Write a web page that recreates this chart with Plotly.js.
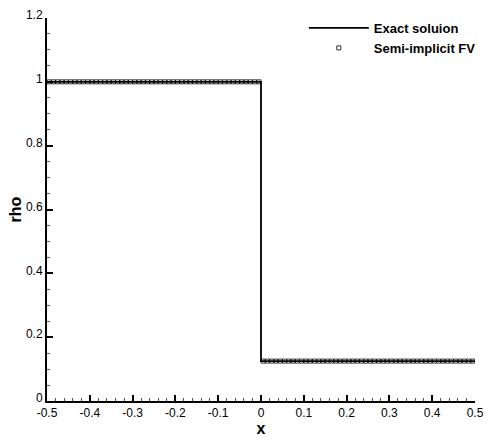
<!DOCTYPE html>
<html>
<head>
<meta charset="utf-8">
<script src="https://cdn.plot.ly/plotly-3.0.1.min.js"></script>
<style>html,body{margin:0;padding:0;background:#fff;}#chart{width:498px;height:443px;}</style>
</head>
<body>
<div id="chart"></div>
<script>
// Exact solution (step)
const exactX = [-0.5, 0, 0, 0.5];
const exactRho = [1, 1, 0.125, 0.125];

// Semi-implicit FV cell centres and values
const fvX = [-0.495,-0.485,-0.475,-0.465,-0.455,-0.445,-0.435,-0.425,-0.415,-0.405,
-0.395,-0.385,-0.375,-0.365,-0.355,-0.345,-0.335,-0.325,-0.315,-0.305,
-0.295,-0.285,-0.275,-0.265,-0.255,-0.245,-0.235,-0.225,-0.215,-0.205,
-0.195,-0.185,-0.175,-0.165,-0.155,-0.145,-0.135,-0.125,-0.115,-0.105,
-0.095,-0.085,-0.075,-0.065,-0.055,-0.045,-0.035,-0.025,-0.015,-0.005,
0.005,0.015,0.025,0.035,0.045,0.055,0.065,0.075,0.085,0.095,
0.105,0.115,0.125,0.135,0.145,0.155,0.165,0.175,0.185,0.195,
0.205,0.215,0.225,0.235,0.245,0.255,0.265,0.275,0.285,0.295,
0.305,0.315,0.325,0.335,0.345,0.355,0.365,0.375,0.385,0.395,
0.405,0.415,0.425,0.435,0.445,0.455,0.465,0.475,0.485,0.495];
const fvRho = [1,1,1,1,1,1,1,1,1,1, 1,1,1,1,1,1,1,1,1,1,
1,1,1,1,1,1,1,1,1,1, 1,1,1,1,1,1,1,1,1,1,
1,1,1,1,1,1,1,1,1,1,
0.125,0.125,0.125,0.125,0.125,0.125,0.125,0.125,0.125,0.125,
0.125,0.125,0.125,0.125,0.125,0.125,0.125,0.125,0.125,0.125,
0.125,0.125,0.125,0.125,0.125,0.125,0.125,0.125,0.125,0.125,
0.125,0.125,0.125,0.125,0.125,0.125,0.125,0.125,0.125,0.125,
0.125,0.125,0.125,0.125,0.125,0.125,0.125,0.125,0.125,0.125];

const xTicks = [-0.5,-0.4,-0.3,-0.2,-0.1,0,0.1,0.2,0.3,0.4,0.5];
const xTickText = ['-0.5','-0.4','-0.3','-0.2','-0.1','0','0.1','0.2','0.3','0.4','0.5'];
const yTicks = [0,0.2,0.4,0.6,0.8,1,1.2];
const yTickText = ['0','0.2','0.4','0.6','0.8','1','1.2'];

const traces = [
  {x: exactX, y: exactRho, type: 'scatter', mode: 'lines', name: 'Exact soluion',
   line: {color: '#000', width: 1.8}},
  {x: fvX, y: fvRho, type: 'scatter', mode: 'markers', name: 'Semi-implicit FV',
   marker: {symbol: 'square-open', size: 4, color: '#000', line: {width: 0.8, color: '#000'}}}
];

const FAM = 'Liberation Sans, Arial, sans-serif';
const axisFont = {family: FAM, size: 12, color: '#000'};
const layout = {
  width: 498, height: 443,
  margin: {l: 47, r: 23, t: 18, b: 42},
  paper_bgcolor: '#fff', plot_bgcolor: '#fff',
  font: axisFont,
  showlegend: true,
  legend: {x: 0.6, y: 1.013, xanchor: 'left', yanchor: 'top', bgcolor: 'rgba(0,0,0,0)',
           font: {family: FAM, size: 13, color: '#000', weight: 'bold'},
           tracegroupgap: 0, itemwidth: 60},
  xaxis: {range: [-0.5, 0.5], tickvals: xTicks, ticktext: xTickText, showgrid: false, zeroline: false,
          showline: true, linecolor: '#000', linewidth: 2, ticks: 'inside', ticklen: 6, tickwidth: 2, tickcolor: '#000',
          minor: {dtick: 0.02, tick0: 0, ticks: 'inside', ticklen: 3, tickwidth: 1, tickcolor: '#555', showgrid: false},
          tickfont: axisFont, ticklabelstandoff: 0,
          title: {text: 'x', font: {family: FAM, size: 16, color: '#000', weight: 'bold'}, standoff: 0}},
  yaxis: {range: [0, 1.2], tickvals: yTicks, ticktext: yTickText, showgrid: false, zeroline: false,
          showline: true, linecolor: '#000', linewidth: 2, ticks: 'inside', ticklen: 6, tickwidth: 2, tickcolor: '#000',
          minor: {dtick: 0.05, tick0: 0, ticks: 'inside', ticklen: 3, tickwidth: 1, tickcolor: '#555', showgrid: false},
          tickfont: axisFont, ticklabelshift: -3,
          title: {text: 'rho', font: {family: FAM, size: 16, color: '#000', weight: 'bold'}, standoff: 0}}
};

Plotly.newPlot('chart', traces, layout, {displayModeBar: false, staticPlot: true});
</script>
</body>
</html>
